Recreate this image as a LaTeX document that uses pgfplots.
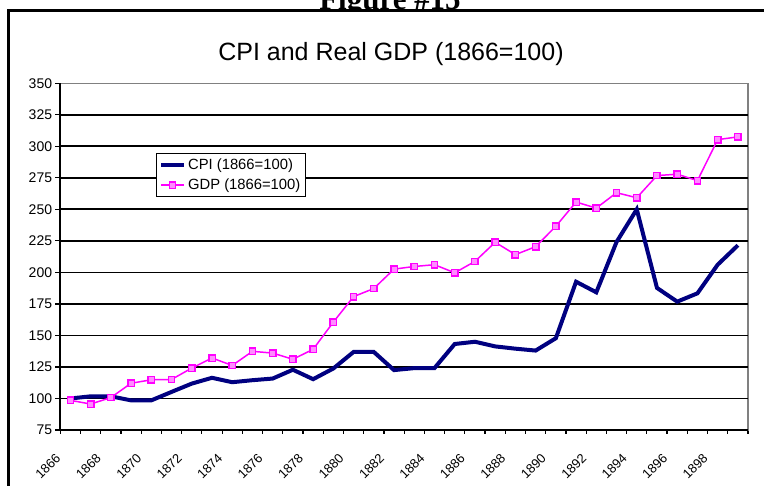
\documentclass[border=0pt]{standalone}
\usepackage{fontspec}
\setmainfont{Liberation Sans}
\newfontfamily\figfont{Liberation Serif}
\usepackage{pgfplots}
\usepackage{pgfplotstable}
\pgfplotsset{compat=1.18}
\definecolor{cpiblue}{RGB}{0,0,128}
\definecolor{gdppink}{RGB}{255,0,255}
\definecolor{bordergray}{RGB}{128,128,128}

\pgfplotstableread{
x cpi gdp
0 100.0 98.5
1 101.7 95.6
2 101.7 100.7
3 98.5 112.1
4 98.5 114.8
5 105.2 115.1
6 111.8 124.1
7 116.4 132.1
8 112.9 126.2
9 114.5 137.4
10 115.8 136.0
11 122.8 131.1
12 115.3 139.0
13 123.8 160.6
14 136.9 180.8
15 136.9 187.2
16 122.5 202.6
17 124.1 204.7
18 124.1 206.1
19 143.2 199.7
20 145.0 208.7
21 141.3 223.9
22 139.5 214.1
23 138.0 220.4
24 147.8 236.6
25 192.6 255.8
26 184.2 251.0
27 224.1 263.2
28 250.0 259.2
29 187.7 276.8
30 176.8 277.9
31 183.4 272.8
32 206.1 305.3
33 221.5 307.5
}\data

\begin{document}
\begin{tikzpicture}
\clip (0pt,0pt) rectangle (764pt,486pt);
\fill[white] (0pt,0pt) rectangle (764pt,486pt);
\node[anchor=base, inner sep=0pt, font=\figfont\bfseries\fontsize{31}{31}\selectfont] at (390pt,476pt) {Figure \#15};
\filldraw[fill=white, draw=black, line width=3pt] (8.7pt,475.2pt) rectangle (800pt,-20pt);
\node[anchor=base, inner sep=0pt, font=\fontsize{25}{25}\selectfont] at (391pt,425.3pt) {CPI and Real GDP (1866=100)};
\begin{axis}[
  at={(60.3pt,56pt)}, anchor=south west,
  scale only axis, width=687.7pt, height=346.7pt,
  xmin=-0.5, xmax=33.5, ymin=75, ymax=350,
  axis background/.style={fill=white},
  axis line style={draw=bordergray, line width=1.5pt},
  tick pos=left,
  ytick={75,100,...,350},
  xtick={0,2,...,32},
  xticklabels={1866,1868,1870,1872,1874,1876,1878,1880,1882,1884,1886,1888,1890,1892,1894,1896,1898},
  minor xtick={-0.5,0.5,...,33.5},
  tick align=outside,
  major x tick style={draw=none},
  major y tick style={black, line width=1.2pt},
  minor x tick style={black, line width=1.2pt},
  major tick length=5pt, minor tick length=4pt,
  major grid style={black, line width=1.8pt},
  extra y ticks={100,125,...,325},
  extra y tick labels={},
  extra y tick style={grid=major, major tick length=0pt},
  /pgf/number format/assume math mode=true,
  yticklabel style={font=\fontsize{14}{14}\selectfont, inner sep=0pt, xshift=-3pt},
  xticklabel style={font=\fontsize{13}{13}\selectfont, inner sep=0pt, xshift=-15.5pt, yshift=-17.5pt, rotate=45, anchor=north east},
  legend style={at={(rel axis cs:0.1387,0.798)}, anchor=north west, draw=black, line width=0.8pt, fill=white,
    font=\fontsize{14.8}{16}\selectfont, inner xsep=3pt, inner ysep=3pt, row sep=4pt},
  legend cell align=left,
  legend image code/.code={\draw[mark repeat=2,mark phase=2] plot coordinates {(0pt,0pt) (11.5pt,0pt) (23pt,0pt)};},
  clip=false,
]
\draw[black, line width=2pt] (rel axis cs:0,1) -- (rel axis cs:0,0) -- (rel axis cs:1,0);
\addplot[cpiblue, line width=4pt, no markers] table[x=x, y=cpi] {\data};
\addlegendentry{CPI (1866=100)}
\addplot[gdppink, line width=1.5pt, mark=square*, mark size=3.2pt, mark options={fill=gdppink!45, draw=gdppink, line width=1.4pt}] table[x=x, y=gdp] {\data};
\addlegendentry{GDP (1866=100)}
\end{axis}
\end{tikzpicture}
\end{document}
